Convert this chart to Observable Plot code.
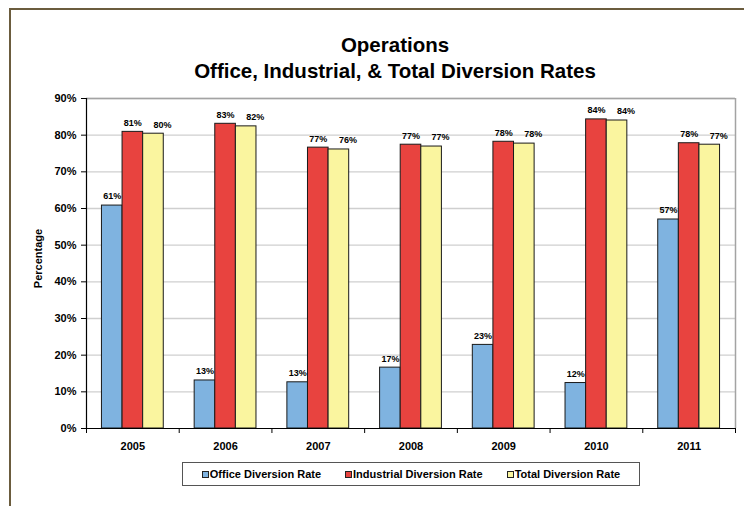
<!DOCTYPE html>
<html>
<head>
<meta charset="utf-8">
<script src="https://cdn.jsdelivr.net/npm/d3@7"></script>
<script src="https://cdn.jsdelivr.net/npm/@observablehq/plot@0.6"></script>
<style>
  html, body { margin: 0; padding: 0; background: #fff; }
  #wrap { position: relative; width: 744px; height: 506px; overflow: hidden; font-family: "Liberation Sans", Arial, sans-serif; }
  #border { position: absolute; left: 9px; top: 8px; width: 800px; height: 600px; border-left: 2px solid #6b5c3e; border-top: 2px solid #6b5c3e; }
  .title { position: absolute; left: 0; width: 790px; text-align: center; font-weight: bold; font-size: 20.5px; line-height: 26px; color: #000; }
  #chart { position: absolute; left: 0; top: 0; }
  #legend { position: absolute; left: 182px; top: 462px; width: 456px; height: 22px; border: 1px solid #555; display: flex; align-items: center; justify-content: center; gap: 24px; font-weight: bold; font-size: 11px; background: #fff; }
  .item { display: flex; align-items: center; }
  .sw { width: 5px; height: 5px; border: 1px solid #222; margin-right: 1px; }
</style>
</head>
<body>
<div id="wrap">
  <div id="border"></div>
  <div class="title" style="top:32px">Operations</div>
  <div class="title" style="top:58px">Office, Industrial, &amp; Total Diversion Rates</div>
  <div id="chart"></div>
  <div id="legend"></div>
</div>
<script>
const years = ["2005", "2006", "2007", "2008", "2009", "2010", "2011"];
const seriesNames = ["Office Diversion Rate", "Industrial Diversion Rate", "Total Diversion Rate"];
const seriesColors = ["#7fb3e0", "#e8433f", "#faf59f"];
const office = [60.8, 13.1, 12.6, 16.6, 22.8, 12.4, 57.0];
const industrial = [80.9, 83.1, 76.6, 77.4, 78.2, 84.3, 77.8];
const total = [80.4, 82.4, 76.1, 76.9, 77.7, 84.0, 77.4];
const yTicks = [0, 10, 20, 30, 40, 50, 60, 70, 80, 90];

const seriesValues = [office, industrial, total];
const rows = [];
seriesValues.forEach((vals, s) => {
  vals.forEach((v, i) => {
    const x1 = i + 1 / 6 + s * (2 / 9);
    rows.push({year: years[i], series: seriesNames[s], s, value: v, x1, x2: x1 + 2 / 9, xc: x1 + 1 / 9});
  });
});
const boundaries = d3.range(years.length + 1);
const centers = years.map((y, i) => i + 0.5);

const font = '"Liberation Sans", Arial, sans-serif';

const chart = Plot.plot({
  width: 744,
  height: 470,
  marginLeft: 86,
  marginRight: 9,
  marginTop: 98,
  marginBottom: 42,
  style: {fontFamily: font, fontSize: "11px", fontWeight: "bold", color: "#000", background: "transparent"},
  x: {type: "linear", domain: [0, years.length]},
  y: {domain: [0, 90]},
  color: {domain: seriesNames, range: seriesColors},
  marks: [
    Plot.gridY(yTicks.slice(1), {stroke: "#cfcfcf", strokeOpacity: 1, strokeWidth: 1.3}),
    Plot.ruleY([90], {stroke: "#a3a3a3", strokeWidth: 1.5}),
    Plot.ruleX([years.length], {stroke: "#a3a3a3", strokeWidth: 1.5}),
    Plot.rectY(rows, {x1: "x1", x2: "x2", y1: 0, y2: "value", fill: "series", stroke: "#1a1a1a", strokeWidth: 1}),
    Plot.text(rows.filter(d => d.s < 2), {x: "xc", y: "value", text: d => Math.round(d.value) + "%", dy: -9, fontSize: 9, fontWeight: "bold", lineAnchor: "middle"}),
    Plot.text(rows.filter(d => d.s === 2), {x: "xc", y: "value", text: d => Math.round(d.value) + "%", dy: -9, dx: 9, fontSize: 9, fontWeight: "bold", lineAnchor: "middle"}),
    Plot.axisY(yTicks, {tickSize: 5, tickPadding: 5, tickFormat: d => d + "%", label: null, stroke: "#000"}),
    Plot.axisX(boundaries, {tickSize: 5, tickFormat: () => "", label: null, stroke: "#000"}),
    Plot.axisX(centers, {tickSize: 0, tickPadding: 14, tickFormat: (d, i) => years[i], label: null}),
    Plot.ruleX([0], {stroke: "#000", strokeWidth: 1.2}),
    Plot.ruleY([0], {stroke: "#000", strokeWidth: 1.2}),
    Plot.text(["Percentage"], {frameAnchor: "left", textAnchor: "middle", rotate: -90, dx: -48, dy: -5, fontSize: 11, fontWeight: "bold"})
  ]
});
document.getElementById("chart").appendChild(chart);

const legend = document.getElementById("legend");
seriesNames.forEach((name, i) => {
  const item = document.createElement("div");
  item.className = "item";
  const sw = document.createElement("div");
  sw.className = "sw";
  sw.style.background = seriesColors[i];
  const label = document.createElement("span");
  label.textContent = name;
  item.appendChild(sw);
  item.appendChild(label);
  legend.appendChild(item);
});
</script>
</body>
</html>
